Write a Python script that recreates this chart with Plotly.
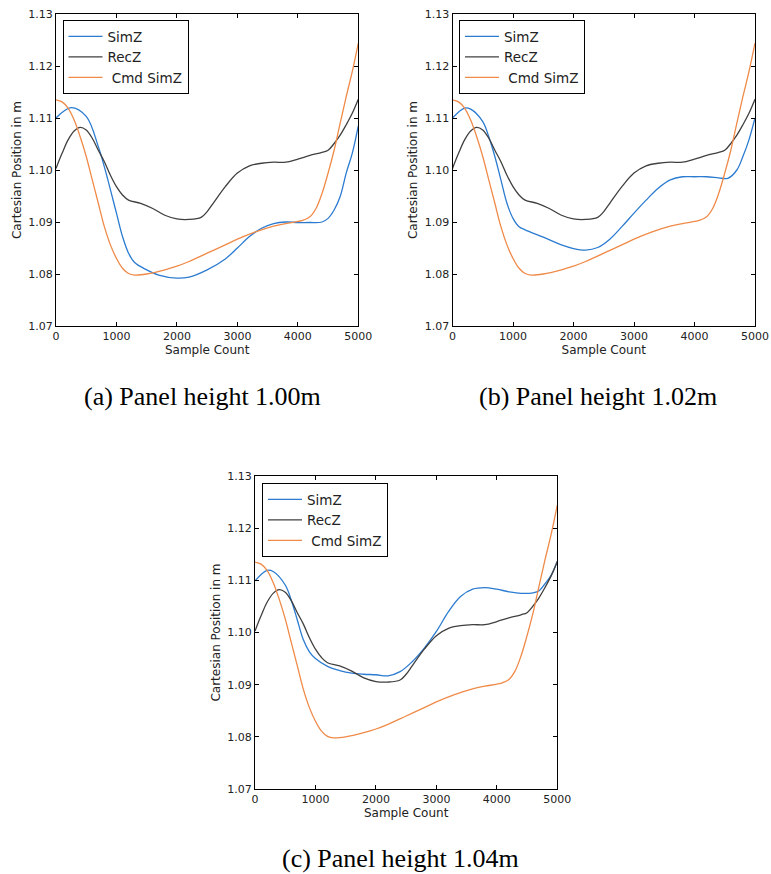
import plotly.graph_objects as go

# ---------------- data ----------------
# Shared series (same in every panel)
rec_x = [0, 100, 200, 300, 400, 500, 600, 700, 800, 900, 1000, 1100, 1200, 1400, 1600, 1800,
         2000, 2200, 2400, 2500, 2600, 2800, 3000, 3200, 3400, 3600, 3800, 4000, 4200, 4400,
         4500, 4600, 4700, 4800, 4900, 5000]
rec_z = [1.1003, 1.1032, 1.1058, 1.1075, 1.1082, 1.1077, 1.1061, 1.1038, 1.1016, 1.0990,
         1.0968, 1.0952, 1.0942, 1.0936, 1.0926, 1.0913, 1.0906, 1.0905, 1.0909, 1.0920,
         1.0936, 1.0968, 1.0994, 1.1008, 1.1013, 1.1015, 1.1015, 1.1021, 1.1028, 1.1034,
         1.1038, 1.1051, 1.1067, 1.1087, 1.1109, 1.1136]

cmd_x = [0, 100, 200, 300, 400, 500, 600, 700, 800, 900, 1000, 1100, 1200, 1300, 1500, 1800,
         2000, 2200, 2500, 2800, 3000, 3300, 3600, 3800, 4000, 4100, 4200, 4300, 4400, 4500,
         4600, 4700, 4800, 4900, 5000]
cmd_z = [1.1135, 1.1131, 1.1119, 1.1096, 1.1064, 1.1026, 1.0981, 1.0936, 1.0891, 1.0856,
         1.0830, 1.0811, 1.0801, 1.0798, 1.0800, 1.0808, 1.0815, 1.0824, 1.0840, 1.0856,
         1.0867, 1.0881, 1.0892, 1.0897, 1.0901, 1.0904, 1.0910, 1.0926, 1.0955, 1.0994,
         1.1038, 1.1090, 1.1141, 1.1189, 1.1244]

# SimZ per panel
sim_a_x = [0, 250, 500, 700, 800, 1000, 1100, 1200, 1300, 1500, 1700, 2000, 2200, 2500, 2800,
           3000, 3200, 3400, 3600, 3800, 4000, 4200, 4400, 4500, 4600, 4700, 4800, 4900, 5000]
sim_a_z = [1.1100, 1.1120, 1.1103, 1.1045, 1.1006, 1.0917, 1.0872, 1.0840, 1.0822, 1.0808,
           1.0798, 1.0792, 1.0794, 1.0808, 1.0829, 1.0850, 1.0872, 1.0888, 1.0897, 1.0900,
           1.0899, 1.0899, 1.0900, 1.0907, 1.0923, 1.0949, 1.0994, 1.1032, 1.1085]

sim_b_x = [0, 200, 300, 500, 600, 700, 800, 900, 1000, 1100, 1200, 1500, 1800, 2000, 2200,
           2400, 2600, 2800, 3000, 3200, 3400, 3600, 3800, 4000, 4200, 4400, 4550, 4700, 4800,
           4900, 5000]
sim_b_z = [1.1100, 1.1119, 1.1117, 1.1093, 1.1064, 1.1026, 1.0981, 1.0936, 1.0907, 1.0891,
           1.0885, 1.0871, 1.0856, 1.0849, 1.0846, 1.0851, 1.0867, 1.0891, 1.0917, 1.0942,
           1.0965, 1.0981, 1.0987, 1.0987, 1.0987, 1.0985, 1.0984, 1.1000, 1.1026, 1.1058,
           1.1100]

sim_c_x = [0, 200, 300, 500, 600, 700, 800, 900, 1000, 1200, 1400, 1600, 1800, 2000, 2200,
           2400, 2600, 2800, 3000, 3200, 3400, 3600, 3800, 4000, 4200, 4400, 4600, 4700, 4800,
           4900, 5000]
sim_c_z = [1.1099, 1.1119, 1.1117, 1.1091, 1.1062, 1.1024, 1.0986, 1.0963, 1.0950, 1.0935,
           1.0927, 1.0922, 1.0920, 1.0919, 1.0917, 1.0925, 1.0944, 1.0970, 1.1002, 1.1040,
           1.1069, 1.1083, 1.1086, 1.1083, 1.1078, 1.1075, 1.1076, 1.1080, 1.1094, 1.1110,
           1.1136]

series_names = ["SimZ", "RecZ", " Cmd SimZ"]
captions = ["(a) Panel height 1.00m", "(b) Panel height 1.02m", "(c) Panel height 1.04m"]
x_ticks = [0, 1000, 2000, 3000, 4000, 5000]
y_ticks = [1.07, 1.08, 1.09, 1.10, 1.11, 1.12, 1.13]

# ---------------- styling ----------------
W, H = 771, 874
BLUE = "#2b7bd0"
DARK = "#404040"
ORANGE = "#ef8a48"
SANS = "DejaVu Sans"
SERIF = "Liberation Serif"
TXT = "#222222"

# pixel boxes of plot areas (left, right, top, bottom)
boxes = [(56, 358.3, 14, 326), (452.5, 755, 14, 326), (255, 557.3, 476, 789)]
legend_pos = [(62.5, 20), (459, 20), (262, 483)]
caption_pos = [(202.4, 396), (598.3, 396), (400, 858)]

fig = go.Figure()
sims = [(sim_a_x, sim_a_z), (sim_b_x, sim_b_z), (sim_c_x, sim_c_z)]
for i in range(3):
    sfx = "" if i == 0 else str(i + 1)
    leg = "legend" if i == 0 else f"legend{i + 1}"
    data = [(sims[i][0], sims[i][1], BLUE), (rec_x, rec_z, DARK), (cmd_x, cmd_z, ORANGE)]
    for name, (xs, ys, col) in zip(series_names, data):
        fig.add_trace(go.Scatter(
            x=xs, y=ys, mode="lines", name=name,
            line=dict(color=col, width=1.3, shape="spline", smoothing=1.0),
            xaxis="x" + sfx, yaxis="y" + sfx, legend=leg, showlegend=True))

layout = dict(template="none", width=W, height=H, autosize=False, margin=dict(l=0, r=0, t=0, b=0),
              plot_bgcolor="white", paper_bgcolor="white", showlegend=True,
              font=dict(family=SANS, size=11, color=TXT))

for i, (l, r, t, b) in enumerate(boxes):
    sfx = "" if i == 0 else str(i + 1)
    axx = dict(domain=[l / W, r / W], range=[0, 5000], tickvals=x_ticks, ticktext=[str(v) for v in x_ticks],
               ticks="inside", ticklen=4, tickcolor="black", showline=True, linecolor="black", linewidth=1,
               mirror="ticks", showgrid=False, zeroline=False, anchor="y" + sfx, automargin=False,
               tickfont=dict(family=SANS, size=11, color=TXT),
               title=dict(text="Sample Count", font=dict(family=SANS, size=12, color=TXT), standoff=2))
    axy = dict(domain=[1 - b / H, 1 - t / H], range=[1.07, 1.13], tickvals=y_ticks,
               ticktext=[f"{v:.2f}" for v in y_ticks],
               ticks="inside", ticklen=4, tickcolor="black", showline=True, linecolor="black", linewidth=1,
               mirror="ticks", showgrid=False, zeroline=False, anchor="x" + sfx, automargin=False,
               tickfont=dict(family=SANS, size=11, color=TXT),
               title=dict(text="Cartesian Position in m", font=dict(family=SANS, size=12, color=TXT), standoff=4))
    layout["xaxis" + sfx] = axx
    layout["yaxis" + sfx] = axy
    lx, ly = legend_pos[i]
    layout["legend" if i == 0 else f"legend{i + 1}"] = dict(
        x=lx / W, y=1 - ly / H, xanchor="left", yanchor="top", xref="paper", yref="paper",
        bgcolor="white", bordercolor="black", borderwidth=1,
        font=dict(family=SANS, size=13.5, color=TXT), itemwidth=34, tracegroupgap=0)

fig.update_layout(**layout)

for (cx, cy), txt in zip(caption_pos, captions):
    fig.add_annotation(x=cx / W, y=1 - cy / H, xref="paper", yref="paper", text=txt, showarrow=False,
                       xanchor="center", yanchor="middle",
                       font=dict(family=SERIF, size=26, color="black"))

fig.write_html("out.html", config={"displayModeBar": False},
               post_script="document.body.style.margin='0';document.body.style.overflow='hidden';")
